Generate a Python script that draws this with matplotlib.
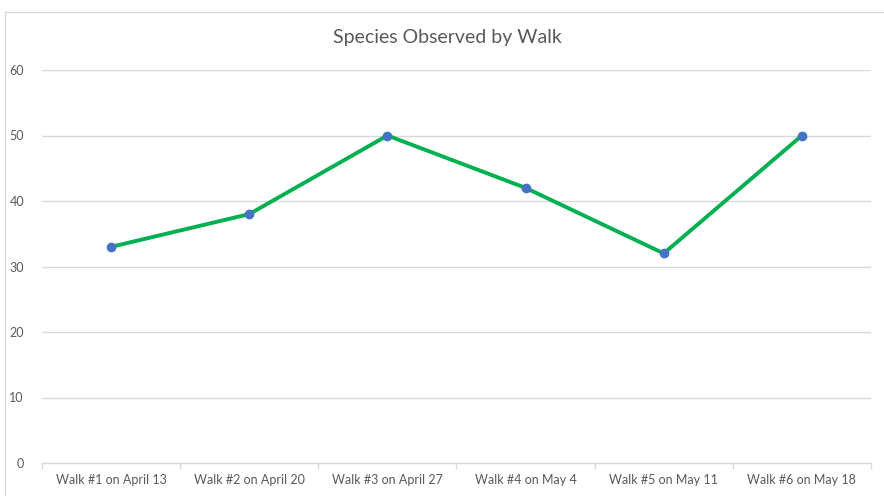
import matplotlib.pyplot as plt
from matplotlib.patches import Rectangle

# data
walks = ["Walk #1 on April 13", "Walk #2 on April 20", "Walk #3 on April 27",
         "Walk #4 on May 4", "Walk #5 on May 11", "Walk #6 on May 18"]
species = [33, 38, 50, 42, 32, 50]
y_ticks = [0, 10, 20, 30, 40, 50, 60]

TEXT = "#595959"
GRID = "#D9D9D9"

plt.rcParams["font.family"] = ["Lato", "DejaVu Sans"]

fig = plt.figure(figsize=(8.84, 4.96), dpi=100)
W, H = 884, 496

# chart border (only top/left visible in the crop)
fig.patches.append(Rectangle((4.5 / W, -0.1), 1.2, (496 - 11.5) / H + 0.1,
                             transform=fig.transFigure, fill=False,
                             edgecolor=GRID, linewidth=1))

ax = fig.add_axes([42 / W, 1 - 463 / H, (871 - 42) / W, (463 - 70) / H])

x = list(range(len(walks)))
ax.plot(x, species, color="#00B050", linewidth=2.8, zorder=3,
        solid_capstyle="round")
ax.plot(x, species, linestyle="none", marker="o", markersize=6,
        color="#4472C4", zorder=4)

ax.set_xlim(-0.5, len(walks) - 0.5)
ax.set_ylim(0, 60)
ax.set_yticks(y_ticks)
ax.set_xticks(x)
ax.set_xticklabels(walks)
ax.set_xticks([i - 0.5 for i in range(len(walks) + 1)], minor=True)

ax.grid(axis="y", color=GRID, linewidth=1)
ax.set_axisbelow(True)
for s in ["top", "right", "left"]:
    ax.spines[s].set_visible(False)
ax.spines["bottom"].set_color(GRID)
ax.spines["bottom"].set_linewidth(1)

ax.tick_params(axis="y", length=0, pad=13, labelsize=9, labelcolor=TEXT)
ax.tick_params(axis="x", which="major", length=0, pad=8, labelsize=9,
               labelcolor=TEXT)
ax.tick_params(axis="x", which="minor", length=4, color=GRID, width=1)

fig.text(447 / W, 1 - 38 / H, "Species Observed by Walk", ha="center",
         va="center", fontsize=14, color=TEXT)

fig.savefig("out.png", dpi=100)
